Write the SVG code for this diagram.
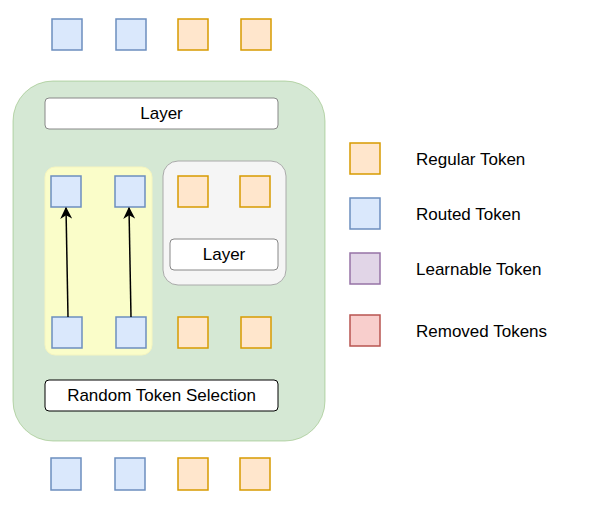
<svg xmlns="http://www.w3.org/2000/svg" width="603" height="515" viewBox="0 0 603 515">
<defs>
<style>
.b{fill:#dae8fc;stroke:#6c8ebf;stroke-width:1.5}
.o{fill:#ffe6cc;stroke:#d79b00;stroke-width:1.5}
.p{fill:#e1d5e7;stroke:#9673a6;stroke-width:1.5}
.r{fill:#f8cecc;stroke:#b85450;stroke-width:1.5}
text{font-family:"Liberation Sans",Arial,sans-serif;font-size:17px;fill:#000}
.c{text-anchor:middle;dominant-baseline:central}
.l{dominant-baseline:central}
</style>
<marker id="ah" viewBox="0 0 10 10" refX="9" refY="5" markerWidth="8" markerHeight="8" orient="auto"><path d="M0,0 L10,5 L0,10 L3,5 z" fill="#000"/></marker>
</defs>
<g id="container"><rect x="13" y="81" width="312" height="360" rx="40" fill="#d5e8d4" stroke="#82b366" stroke-opacity="0.5"/></g>
<g id="yellow"><rect x="45" y="167" width="107" height="188" rx="10" fill="#fafdc9" stroke="#f5f5c0"/></g>
<g id="grey"><rect x="163" y="161" width="123" height="124" rx="15" fill="#f5f5f5" stroke="#aaaaaa"/></g>
<g id="layer1"><rect x="45" y="98" width="233" height="31" rx="4" fill="#fff" stroke="#888"/><text class="c" x="161.5" y="113.5">Layer</text></g>
<g id="layer2"><rect x="170" y="239" width="108" height="31" rx="4" fill="#fff" stroke="#888"/><text class="c" x="224" y="254.5">Layer</text></g>
<g id="rts"><rect x="45" y="380" width="233" height="31" rx="4" fill="#fff" stroke="#000"/><text class="c" x="161.5" y="395.5">Random Token Selection</text></g>
<g id="top"><rect class="b" x="52" y="19" width="30" height="31"/><rect class="b" x="116" y="19" width="30" height="31"/><rect class="o" x="178" y="19" width="30" height="31"/><rect class="o" x="241" y="19" width="30" height="31"/></g>
<g id="innertop"><rect class="b" x="51" y="176" width="30" height="31"/><rect class="b" x="115" y="176" width="30" height="31"/><rect class="o" x="178" y="176" width="30" height="31"/><rect class="o" x="240" y="176" width="30" height="31"/></g>
<g id="innerbottom"><rect class="b" x="52" y="317" width="30" height="31"/><rect class="b" x="116" y="317" width="30" height="31"/><rect class="o" x="178" y="317" width="30" height="31"/><rect class="o" x="241" y="317" width="30" height="31"/></g>
<g id="bottom"><rect class="b" x="51" y="458" width="30" height="32"/><rect class="b" x="115" y="458" width="30" height="32"/><rect class="o" x="178" y="458" width="30" height="32"/><rect class="o" x="240" y="458" width="30" height="32"/></g>
<g id="connectors" stroke="#000" stroke-width="1.5" fill="none">
<line x1="68" y1="317" x2="66" y2="208" marker-end="url(#ah)"/>
<line x1="131" y1="317" x2="129" y2="208" marker-end="url(#ah)"/>
</g>
<g id="legend">
<rect class="o" x="350" y="143" width="30" height="31"/><text class="l" x="416" y="159">Regular Token</text>
<rect class="b" x="350" y="198" width="30" height="31"/><text class="l" x="416" y="214">Routed Token</text>
<rect class="p" x="350" y="253" width="30" height="31"/><text class="l" x="416" y="269">Learnable Token</text>
<rect class="r" x="350" y="315" width="30" height="31"/><text class="l" x="416" y="331">Removed Tokens</text>
</g>
</svg>
